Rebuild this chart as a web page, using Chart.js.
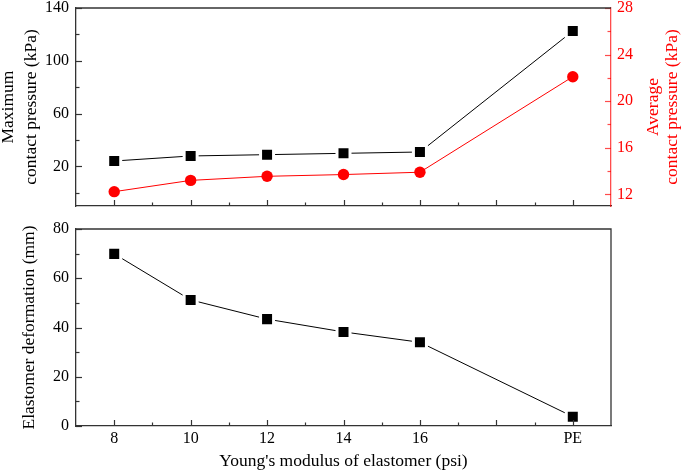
<!DOCTYPE html>
<html><head><meta charset="utf-8">
<script src="https://cdn.jsdelivr.net/npm/chart.js@4"></script>
<style>
html,body{margin:0;padding:0;background:#fff;}
#wrap{position:relative;width:685px;height:472px;overflow:hidden;}
canvas{position:absolute;left:0;}
</style>
</head><body>
<div id="wrap">
<canvas id="topChart" width="685" height="215" style="top:0"></canvas>
<canvas id="botChart" width="685" height="257" style="top:215px"></canvas>
</div>
<script>
// ---- data ----
const xValues = [8, 10, 12, 14, 16, 20];
const maxPressure = [24.1, 27.9, 28.9, 29.9, 30.9, 122.5];
const avgPressure = [12.23, 13.2, 13.55, 13.7, 13.9, 22.1];
const deformation = [69.9, 51.2, 43.4, 38.2, 34.0, 3.8];

const xMajorTicks = [8, 10, 12, 14, 16, 18, 20];
const xMajorLabels = ['8', '10', '12', '14', '16', '', 'PE'];
const xMinorTicks = [9, 11, 13, 15, 17, 19];
const maxMajorTicks = [20, 60, 100, 140];
const maxMinorTicks = [0, 40, 80, 120];
const avgMajorTicks = [12, 16, 20, 24, 28];
const avgMinorTicks = [14, 18, 22, 26];
const defMajorTicks = [0, 20, 40, 60, 80];
const defMinorTicks = [10, 30, 50, 70];

const FAMILY = "'Liberation Serif', 'Times New Roman', serif";
const FONT = {family: FAMILY, size: 16};
const TFONT = {family: FAMILY, size: 17.5};
const AXIS_COLOR = '#333';
const RED = '#ff0000';

function tickSetup(major, minor, labels) {
  return {
    afterBuildTicks(scale) {
      const t = major.map(v => ({value: v, isMajor: true}))
        .concat(minor.map(v => ({value: v, isMajor: false})));
      t.sort((a, b) => a.value - b.value);
      scale.ticks = t;
    },
    callback(value) {
      const i = major.indexOf(value);
      if (i < 0) return '';
      return labels ? labels[i] : String(value);
    }
  };
}

function fitY(w) {
  return function(s) { s.width = w; s.paddingTop = 0; s.paddingBottom = 0; };
}
function fitX(h) {
  return function(s) { s.height = h; s.paddingLeft = 0; s.paddingRight = 0; };
}

const inwardTicks = {
  id: 'inwardTicks',
  afterDatasetsDraw(chart) {
    const ctx = chart.ctx;
    ctx.save();
    for (const s of Object.values(chart.scales)) {
      ctx.strokeStyle = s.options.border.color;
      ctx.lineWidth = 1.2;
      for (const t of s.ticks) {
        const len = t.isMajor ? 6 : 3.5;
        const p = Math.round(s.getPixelForValue(t.value)) + 0.5;
        ctx.beginPath();
        if (s.position === 'left') { ctx.moveTo(s.right, p); ctx.lineTo(s.right + len, p); }
        else if (s.position === 'right') { ctx.moveTo(s.left, p); ctx.lineTo(s.left - len, p); }
        else { ctx.moveTo(p, s.top); ctx.lineTo(p, s.top - len); }
        ctx.stroke();
      }
    }
    ctx.restore();
  }
};

const frame = {
  id: 'frame',
  afterDatasetsDraw(chart, args, opts) {
    const a = chart.chartArea, ctx = chart.ctx;
    ctx.save();
    ctx.strokeStyle = AXIS_COLOR;
    ctx.lineWidth = 1.3;
    ctx.beginPath();
    ctx.moveTo(a.left, a.top); ctx.lineTo(a.right, a.top);
    if (opts.right) { ctx.lineTo(a.right, a.bottom); }
    ctx.stroke();
    ctx.restore();
  }
};

const rightTitle = {
  id: 'rightTitle',
  afterDraw(chart, args, opts) {
    const s = chart.scales.y2; if (!s) return;
    const ctx = chart.ctx;
    const cy = (s.top + s.bottom) / 2;
    ctx.save();
    ctx.fillStyle = RED;
    ctx.font = TFONT.size + 'px ' + FAMILY;
    ctx.textAlign = 'center';
    ctx.textBaseline = 'middle';
    opts.lines.forEach((line, i) => {
      ctx.save();
      ctx.translate(s.left + opts.offsets[i], cy);
      ctx.rotate(-Math.PI / 2);
      ctx.fillText(line, 0, 0);
      ctx.restore();
    });
    ctx.restore();
  }
};

const xt = tickSetup(xMajorTicks, xMinorTicks, xMajorLabels);
const yt1 = tickSetup(maxMajorTicks, maxMinorTicks);
const yt2 = tickSetup(avgMajorTicks, avgMinorTicks);
const yt3 = tickSetup(defMajorTicks, defMinorTicks);

const noGrid = {display: false, drawTicks: false, tickLength: 0};

new Chart(document.getElementById('topChart'), {
  type: 'line',
  data: {
    datasets: [
      {
        data: xValues.map((x, i) => ({x, y: maxPressure[i]})),
        yAxisID: 'y', borderColor: '#000', borderWidth: 1, tension: 0,
        pointStyle: 'rect', pointRadius: 9.2, pointBackgroundColor: '#000',
        pointBorderColor: '#fff', pointBorderWidth: 3, clip: false
      },
      {
        data: xValues.map((x, i) => ({x, y: avgPressure[i]})),
        yAxisID: 'y2', borderColor: RED, borderWidth: 1, tension: 0,
        pointStyle: 'circle', pointRadius: 5.7, pointBackgroundColor: RED,
        pointBorderColor: RED, pointBorderWidth: 0, clip: false
      }
    ]
  },
  options: {
    responsive: false, animation: false, events: [],
    layout: {autoPadding: false, padding: {top: 8, left: 0, right: 0, bottom: 0}},
    plugins: {
      legend: {display: false}, tooltip: {enabled: false},
      frame: {right: false},
      rightTitle: {lines: ['Average', 'contact pressure (kPa)'], offsets: [42, 61.5]}
    },
    scales: {
      x: {
        type: 'linear', position: 'bottom', min: 7, max: 21,
        grid: noGrid, border: {display: true, color: AXIS_COLOR, width: 1.3},
        ticks: {display: false, autoSkip: false},
        afterBuildTicks: xt.afterBuildTicks,
        afterFit: fitX(9)
      },
      y: {
        type: 'linear', position: 'left', min: -10, max: 140,
        grid: noGrid, border: {display: true, color: AXIS_COLOR, width: 1.3},
        ticks: {font: FONT, color: '#000', padding: 7, autoSkip: false, callback: yt1.callback},
        afterBuildTicks: yt1.afterBuildTicks,
        title: {display: true, text: ['Maximum', 'contact pressure (kPa)'], font: {...TFONT, lineHeight: 1.29}, color: '#000', padding: {top: -2.5, bottom: 0}},
        afterFit: fitY(76)
      },
      y2: {
        type: 'linear', position: 'right', min: 11, max: 28,
        grid: noGrid, border: {display: true, color: 'rgba(255,0,0,0.7)', width: 1.3},
        ticks: {font: FONT, color: RED, padding: 6, autoSkip: false, callback: yt2.callback},
        afterBuildTicks: yt2.afterBuildTicks,
        afterFit: fitY(74)
      }
    }
  },
  plugins: [inwardTicks, frame, rightTitle]
});

new Chart(document.getElementById('botChart'), {
  type: 'line',
  data: {
    datasets: [
      {
        data: xValues.map((x, i) => ({x, y: deformation[i]})),
        yAxisID: 'y', borderColor: '#000', borderWidth: 1, tension: 0,
        pointStyle: 'rect', pointRadius: 9.2, pointBackgroundColor: '#000',
        pointBorderColor: '#fff', pointBorderWidth: 3, clip: false
      }
    ]
  },
  options: {
    responsive: false, animation: false, events: [],
    layout: {autoPadding: false, padding: {top: 14, left: 0, right: 74, bottom: 0}},
    plugins: {
      legend: {display: false}, tooltip: {enabled: false},
      frame: {right: true}
    },
    scales: {
      x: {
        type: 'linear', position: 'bottom', min: 7, max: 21,
        grid: noGrid, border: {display: true, color: AXIS_COLOR, width: 1.3},
        ticks: {font: FONT, color: '#000', padding: 3, autoSkip: false, maxRotation: 0, callback: xt.callback},
        afterBuildTicks: xt.afterBuildTicks,
        title: {display: true, text: "Young's modulus of elastomer (psi)", font: TFONT, color: '#000', padding: {top: 0, bottom: 0}},
        afterFit: fitX(46)
      },
      y: {
        type: 'linear', position: 'left', min: 0, max: 80,
        grid: noGrid, border: {display: true, color: AXIS_COLOR, width: 1.3},
        ticks: {font: FONT, color: '#000', padding: 7, autoSkip: false, callback: yt3.callback},
        afterBuildTicks: yt3.afterBuildTicks,
        title: {display: true, text: 'Elastomer deformation (mm)', font: TFONT, color: '#000', padding: {top: 18.5, bottom: 0}},
        afterFit: fitY(76)
      }
    }
  },
  plugins: [inwardTicks, frame]
});
</script>
</body></html>
